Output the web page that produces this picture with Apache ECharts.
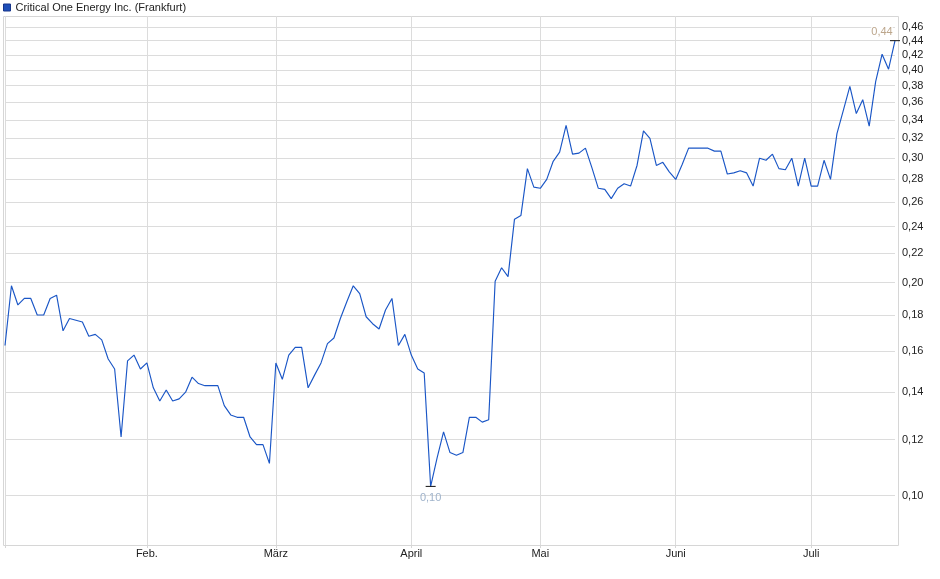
<!DOCTYPE html>
<html><head><meta charset="utf-8">
<script src="https://cdn.jsdelivr.net/npm/echarts@6/dist/echarts.min.js"></script>
<style>html,body{margin:0;padding:0;background:#fff}#c{width:940px;height:579px}</style>
</head><body><div id="c"></div>
<script>
const seriesName = 'Critical One Energy Inc. (Frankfurt)';
const firstDay = '2025-01-02';
const lastDay = '2025-07-18';
const holidays = ['2025-01-01', '2025-04-18', '2025-04-21', '2025-05-01'];
const monthNames = ['Jan.', 'Feb.', 'März', 'April', 'Mai', 'Juni', 'Juli'];
const prices = [
  0.163, 0.198, 0.186, 0.190, 0.190, 0.180, 0.180, 0.190, 0.192, 0.171,
  0.178, 0.177, 0.176, 0.168, 0.169, 0.166, 0.156, 0.151, 0.121, 0.155,
  0.158, 0.151, 0.154, 0.142, 0.136, 0.141, 0.136, 0.137, 0.140, 0.147,
  0.144, 0.143, 0.143, 0.143, 0.134, 0.130, 0.129, 0.129, 0.121, 0.118,
  0.118, 0.111, 0.154, 0.146, 0.158, 0.162, 0.162, 0.142, 0.148, 0.154,
  0.164, 0.167, 0.178, 0.188, 0.198, 0.193, 0.179, 0.175, 0.172, 0.183,
  0.190, 0.163, 0.169, 0.158, 0.151, 0.149, 0.103, 0.113, 0.123, 0.115,
  0.114, 0.115, 0.129, 0.129, 0.127, 0.128, 0.201, 0.210, 0.204, 0.246,
  0.249, 0.290, 0.273, 0.272, 0.280, 0.297, 0.306, 0.334, 0.304, 0.305,
  0.310, 0.291, 0.272, 0.271, 0.263, 0.272, 0.276, 0.274, 0.293, 0.328,
  0.320, 0.293, 0.296, 0.287, 0.280, 0.294, 0.310, 0.310, 0.310, 0.310,
  0.307, 0.307, 0.285, 0.286, 0.288, 0.286, 0.274, 0.300, 0.298, 0.304,
  0.290, 0.289, 0.300, 0.274, 0.300, 0.274, 0.274, 0.298, 0.280, 0.325,
  0.351, 0.379, 0.347, 0.363, 0.333, 0.385, 0.421, 0.401, 0.440
];
const yTicks = [0.10, 0.12, 0.14, 0.16, 0.18, 0.20, 0.22, 0.24, 0.26, 0.28, 0.30, 0.32, 0.34, 0.36, 0.38, 0.40, 0.42, 0.44, 0.46];
const yMin = 0.0851;
const yMax = 0.4768;

// trading-day categories (weekdays without exchange holidays)
const dates = [];
for (let d = new Date(firstDay + 'T00:00:00Z'); d <= new Date(lastDay + 'T00:00:00Z'); d.setUTCDate(d.getUTCDate() + 1)) {
  const wd = d.getUTCDay();
  const s = d.toISOString().slice(0, 10);
  if (wd === 0 || wd === 6 || holidays.includes(s)) continue;
  dates.push(s);
}
const isMonthStart = i => i > 0 && dates[i].slice(5, 7) !== dates[i - 1].slice(5, 7);
const isGridIdx = i => i === 0 || isMonthStart(i);
const fmt = v => Number(v).toFixed(2).replace('.', ',');

const chart = echarts.init(document.getElementById('c'), null, { renderer: 'canvas' });
chart.setOption({
  animation: false,
  textStyle: { fontFamily: '"Liberation Sans", Arial, sans-serif' },
  legend: {
    left: 0, top: 0, padding: [2, 3], itemWidth: 7, itemHeight: 7, itemGap: 5,
    icon: 'rect',
    itemStyle: { borderColor: '#17358a', borderWidth: 1 },
    textStyle: { fontSize: 11, color: '#222' },
    data: [seriesName]
  },
  graphic: [{
    type: 'rect', silent: true, z: 0,
    shape: { x: 3.5, y: 16.5, width: 895, height: 529 },
    style: { fill: 'none', stroke: '#d6d6d6', lineWidth: 1 }
  }],
  grid: { left: 5, right: 45, top: 16, bottom: 34 },
  xAxis: {
    type: 'category',
    data: dates,
    boundaryGap: false,
    axisLine: { show: false },
    axisTick: { show: true, interval: isGridIdx, length: 3, lineStyle: { color: '#d6d6d6' } },
    axisLabel: {
      interval: i => isMonthStart(i),
      formatter: v => monthNames[+v.slice(5, 7) - 1],
      fontSize: 11, color: '#222', margin: 3
    },
    splitLine: { show: true, interval: isGridIdx, lineStyle: { color: '#dcdcdc', width: 1 } }
  },
  yAxis: {
    type: 'log',
    logBase: 10,
    position: 'right',
    min: yMin,
    max: yMax,
    axisLine: { show: false },
    axisTick: { show: false, customValues: yTicks },
    axisLabel: { customValues: yTicks, formatter: fmt, fontSize: 11, color: '#222', margin: 7 },
    splitLine: { show: true, lineStyle: { color: '#dcdcdc', width: 1 } }
  },
  series: [{
    name: seriesName,
    type: 'line',
    data: prices,
    symbol: 'none',
    showSymbol: false,
    lineStyle: { color: '#1a56c6', width: 1.15 },
    itemStyle: { color: '#1e4fb8' },
    markPoint: {
      symbol: 'rect',
      symbolSize: [10, 1],
      itemStyle: { color: '#111' },
      label: { show: true, position: 'inside', fontSize: 11, formatter: p => fmt(p.value) },
      data: [
        { type: 'min', label: { offset: [0, 12], color: '#9fb3cb' } },
        { type: 'max', label: { offset: [-13, -9], color: '#bca68c', backgroundColor: '#fff' } }
      ]
    }
  }]
});
</script>
</body></html>
